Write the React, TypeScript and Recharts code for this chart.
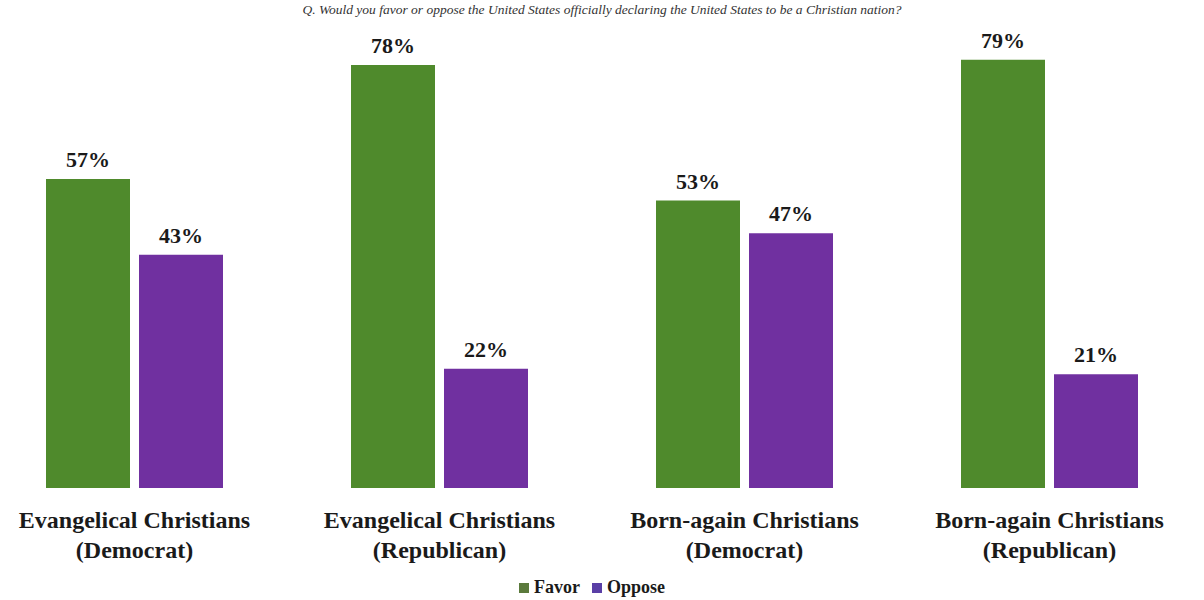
import { Bar, BarChart, LabelList, Legend, XAxis, YAxis } from "recharts";

const GROUPS = ["Evangelical Christians", "Evangelical Christians", "Born-again Christians", "Born-again Christians"];
const PARTIES = ["(Democrat)", "(Republican)", "(Democrat)", "(Republican)"];
const FAVOR = [57, 78, 53, 79];
const OPPOSE = [43, 22, 47, 21];

const GREEN = "#4f8a2c";
const PURPLE = "#7030a0";
const FONT = "'Liberation Serif', 'DejaVu Serif', serif";

const data = GROUPS.map((g, i) => ({
  name: `${g} ${PARTIES[i]}`,
  line1: g,
  line2: PARTIES[i],
  favor: FAVOR[i],
  oppose: OPPOSE[i],
}));

function CategoryTick(props: any) {
  const { x, y, payload } = props;
  const row = data[payload.index] ?? data.find((d) => d.name === payload.value);
  return (
    <text x={x} y={y} textAnchor="middle" style={{ fontFamily: FONT }} fontWeight="bold" fontSize={24} fill="#1a1a1a">
      <tspan x={x} dy={32}>{row?.line1}</tspan>
      <tspan x={x} dy={30}>{row?.line2}</tspan>
    </text>
  );
}

function LegendBox() {
  const items = [
    { label: "Favor", color: "#5b7a3c" },
    { label: "Oppose", color: "#5a3fa6" },
  ];
  return (
    <div style={{ display: "flex", justifyContent: "center", gap: 12, marginTop: 9, fontFamily: FONT, fontWeight: "bold", fontSize: 18, color: "#1a1a1a" }}>
      {items.map((it) => (
        <span key={it.label} style={{ display: "flex", alignItems: "center", gap: 5 }}>
          <span style={{ width: 10, height: 10, background: it.color, display: "inline-block" }} />
          {it.label}
        </span>
      ))}
    </div>
  );
}

const labelStyle = { fontFamily: FONT, fontWeight: "bold", fontSize: 22, fill: "#1a1a1a" };

export default function App() {
  return (
    <div style={{ position: "absolute", left: 0, top: 0, width: 1204, height: 600, overflow: "hidden", background: "#fff" }}>
      <div
        style={{
          position: "absolute",
          top: 2,
          left: 0,
          width: 1204,
          textAlign: "center",
          fontFamily: FONT,
          fontStyle: "italic",
          fontSize: 13.5,
          color: "#333",
          zIndex: 2,
        }}
      >
        Q. Would you favor or oppose the United States officially declaring the United States to be a Christian nation?
      </div>
      <div style={{ position: "absolute", left: -18, top: 0 }}>
        <BarChart width={1220} height={600} data={data} margin={{ top: 0, right: 0, bottom: 0, left: 0 }} barGap={9} barSize={84}>
          <XAxis dataKey="name" axisLine={false} tickLine={false} height={80} interval={0} tick={<CategoryTick />} />
          <YAxis hide domain={[0, 90]} />
          <Legend verticalAlign="bottom" height={32} content={<LegendBox />} />
          <Bar dataKey="favor" name="Favor" fill={GREEN} isAnimationActive={false}>
            <LabelList dataKey="favor" position="top" offset={12} formatter={(v: any) => `${v}%`} style={labelStyle} />
          </Bar>
          <Bar dataKey="oppose" name="Oppose" fill={PURPLE} isAnimationActive={false}>
            <LabelList dataKey="oppose" position="top" offset={12} formatter={(v: any) => `${v}%`} style={labelStyle} />
          </Bar>
        </BarChart>
      </div>
    </div>
  );
}
